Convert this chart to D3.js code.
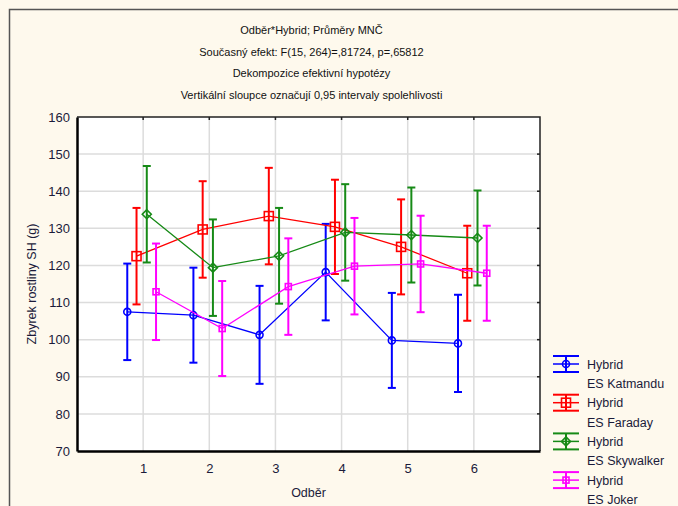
<!DOCTYPE html>
<html>
<head>
<meta charset="utf-8">
<script src="https://cdn.jsdelivr.net/npm/d3@7"></script>
<style>
  body { margin: 0; background: #fef9ed; }
  svg { display: block; font-family: "Liberation Sans", Arial, sans-serif; }
</style>
</head>
<body>
<svg id="chart" width="678" height="506"></svg>
<script>
// Chart texts
const titleLines = [
  "Odběr*Hybrid; Průměry MNČ",
  "Současný efekt: F(15, 264)=,81724, p=,65812",
  "Dekompozice efektivní hypotézy",
  "Vertikální sloupce označují 0,95 intervaly spolehlivosti"
];
const xLabel = "Odběr",
      yLabel = "Zbyrek rostliny SH (g)";

// Categories and tick values
const odber = [1, 2, 3, 4, 5, 6];
const yTicks = [70, 80, 90, 100, 110, 120, 130, 140, 150, 160];

// Series names
const seriesNames = ["ES Katmandu", "ES Faraday", "ES Skywalker", "ES Joker"];

// Means per series
const katmandu  = [107.5, 106.6, 101.3, 118.2,  99.8,  99.0];
const faraday   = [122.5, 129.7, 133.3, 130.4, 125.0, 117.9];
const skywalker = [133.8, 119.4, 122.6, 128.9, 128.2, 127.4];
const joker     = [112.9, 103.0, 114.3, 119.8, 120.4, 117.9];

// Half width of 0,95 confidence intervals
const ciKatmandu  = [13.0, 12.8, 13.2, 13.0, 12.8, 13.1];
const ciFaraday   = [13.0, 13.0, 13.0, 12.7, 12.8, 12.8];
const ciSkywalker = [13.0, 13.0, 12.9, 13.0, 12.8, 12.8];
const ciJoker     = [13.0, 12.8, 13.0, 13.0, 13.0, 12.8];

const colors = ["#0000ff", "#ff0000", "#168a16", "#ff00ff"];
const offsets = [-0.24, -0.1, 0.055, 0.195]; // horizontal shift of each series (in category units)

const series = seriesNames.map((name, k) => ({
  name: name,
  color: colors[k],
  off: offsets[k],
  means: [katmandu, faraday, skywalker, joker][k],
  ci: [ciKatmandu, ciFaraday, ciSkywalker, ciJoker][k]
}));

// =====================
// Layout
// =====================
const plot = { left: 77, right: 540, top: 117, bottom: 451 };

const svg = d3.select('#chart');

// outer frame (only top & left visible)
svg.append('rect')
  .attr('x', 9.5).attr('y', 9.5)
  .attr('width', 700).attr('height', 520)
  .attr('fill', '#fef9ed')
  .attr('stroke', '#555').attr('stroke-width', 1.5);

const x = d3.scaleLinear().domain([0, 7]).range([plot.left, plot.right]);
const y = d3.scaleLinear().domain([70, 160]).range([plot.bottom, plot.top]);

// plot background
svg.append('rect')
  .attr('x', plot.left).attr('y', plot.top)
  .attr('width', plot.right - plot.left).attr('height', plot.bottom - plot.top)
  .attr('fill', '#fff');

// grid
svg.append('g').selectAll('line').data(yTicks.slice(1, -1)).enter().append('line')
  .attr('x1', plot.left).attr('x2', plot.right)
  .attr('y1', d => y(d)).attr('y2', d => y(d))
  .attr('stroke', '#dcdcdc').attr('stroke-width', 1.5);
svg.append('g').selectAll('line').data(odber).enter().append('line')
  .attr('x1', d => x(d)).attr('x2', d => x(d))
  .attr('y1', plot.top).attr('y2', plot.bottom)
  .attr('stroke', '#dcdcdc').attr('stroke-width', 1.5);

// top / right border with small inner ticks
svg.append('path')
  .attr('d', `M${plot.left},${plot.top}H${plot.right}V${plot.bottom}`)
  .attr('fill', 'none').attr('stroke', '#222').attr('stroke-width', 1.5);
svg.append('g').selectAll('line').data(odber).enter().append('line')
  .attr('x1', d => x(d)).attr('x2', d => x(d))
  .attr('y1', plot.top).attr('y2', plot.top + 3)
  .attr('stroke', '#222').attr('stroke-width', 1.5);
svg.append('g').selectAll('line').data(yTicks.slice(1, -1)).enter().append('line')
  .attr('x1', plot.right - 3).attr('x2', plot.right)
  .attr('y1', d => y(d)).attr('y2', d => y(d))
  .attr('stroke', '#222').attr('stroke-width', 1.5);

// axes
const xAxis = d3.axisBottom(x).tickValues(odber).tickSize(0).tickPadding(13).tickFormat(d3.format('d'));
const yAxis = d3.axisLeft(y).tickValues(yTicks).tickSize(0).tickPadding(7);

svg.append('g')
  .attr('transform', `translate(0,${plot.bottom})`)
  .call(xAxis)
  .call(g => g.select('.domain').attr('stroke', '#000').attr('stroke-width', 2.5));
svg.append('g')
  .attr('transform', `translate(${plot.left},0)`)
  .call(yAxis)
  .call(g => g.select('.domain').attr('stroke', '#000').attr('stroke-width', 2.5));

svg.selectAll('.tick text')
  .attr('font-family', '"Liberation Sans", Arial, sans-serif')
  .attr('font-size', 13).attr('fill', '#1b1b3a');

// axis labels
svg.append('text')
  .attr('x', (plot.left + plot.right) / 2).attr('y', 497)
  .attr('text-anchor', 'middle').attr('font-size', 12.5).attr('fill', '#1b1b3a')
  .text(xLabel);
svg.append('text')
  .attr('transform', `translate(36,${(plot.top + plot.bottom) / 2}) rotate(-90)`)
  .attr('text-anchor', 'middle').attr('font-size', 12.5).attr('fill', '#1b1b3a')
  .text(yLabel);

// title
svg.append('g').selectAll('text').data(titleLines).enter().append('text')
  .attr('x', (plot.left + plot.right) / 2 + 3)
  .attr('y', (d, i) => 34 + i * 21.7)
  .attr('text-anchor', 'middle').attr('font-size', 11).attr('fill', '#111')
  .text(d => d);

// =====================
// Markers
// =====================
function drawMarker(g, k, cx, cy, color) {
  if (k === 0) {
    g.append('circle').attr('cx', cx).attr('cy', cy).attr('r', 3.5)
      .attr('fill', 'none').attr('stroke', color).attr('stroke-width', 1.6);
  } else if (k === 1) {
    g.append('rect').attr('x', cx - 4.5).attr('y', cy - 4.5).attr('width', 9).attr('height', 9)
      .attr('fill', 'none').attr('stroke', color).attr('stroke-width', 1.6);
  } else if (k === 2) {
    g.append('path').attr('d', `M${cx},${cy - 4.5}L${cx + 4.5},${cy}L${cx},${cy + 4.5}L${cx - 4.5},${cy}Z`)
      .attr('fill', 'none').attr('stroke', color).attr('stroke-width', 1.6);
  } else {
    g.append('rect').attr('x', cx - 3).attr('y', cy - 3).attr('width', 6).attr('height', 6)
      .attr('fill', 'none').attr('stroke', color).attr('stroke-width', 1.6);
  }
}

// =====================
// Series: lines, error bars, markers
// =====================
const line = d3.line().x(d => x(d.c)).y(d => y(d.v));

series.forEach((s, k) => {
  const pts = odber.map((o, i) => ({ c: o + s.off, v: s.means[i], e: s.ci[i] }));
  const g = svg.append('g');

  g.append('path').datum(pts)
    .attr('d', line).attr('fill', 'none')
    .attr('stroke', s.color).attr('stroke-width', 1.3);

  const eb = g.selectAll('.eb').data(pts).enter().append('g');
  eb.append('line')
    .attr('x1', d => x(d.c)).attr('x2', d => x(d.c))
    .attr('y1', d => y(d.v + d.e)).attr('y2', d => y(d.v - d.e))
    .attr('stroke', s.color).attr('stroke-width', 2);
  [1, -1].forEach(sg => {
    eb.append('line')
      .attr('x1', d => x(d.c) - 4).attr('x2', d => x(d.c) + 4)
      .attr('y1', d => y(d.v + sg * d.e)).attr('y2', d => y(d.v + sg * d.e))
      .attr('stroke', s.color).attr('stroke-width', 2);
  });

  pts.forEach(d => drawMarker(g, k, x(d.c), y(d.v), s.color));
});

// =====================
// Legend
// =====================
const legend = svg.append('g');
series.forEach((s, k) => {
  const cy = 364 + k * 38.7, cx = 566;
  const lg = legend.append('g');
  [-8, 0, 8].forEach(dy => {
    lg.append('line').attr('x1', cx - 13).attr('x2', cx + 13)
      .attr('y1', cy + dy).attr('y2', cy + dy)
      .attr('stroke', s.color).attr('stroke-width', dy === 0 ? 1.5 : 2);
  });
  lg.append('line').attr('x1', cx).attr('x2', cx).attr('y1', cy - 8).attr('y2', cy + 8)
    .attr('stroke', s.color).attr('stroke-width', 2);
  drawMarker(lg, k, cx, cy, s.color);
  lg.append('text').attr('x', 587).attr('y', cy + 4.5)
    .attr('font-size', 12.5).attr('fill', '#1b1b3a').text('Hybrid');
  lg.append('text').attr('x', 587).attr('y', cy + 24)
    .attr('font-size', 12.5).attr('fill', '#1b1b3a').text(s.name);
});
</script>
</body>
</html>
